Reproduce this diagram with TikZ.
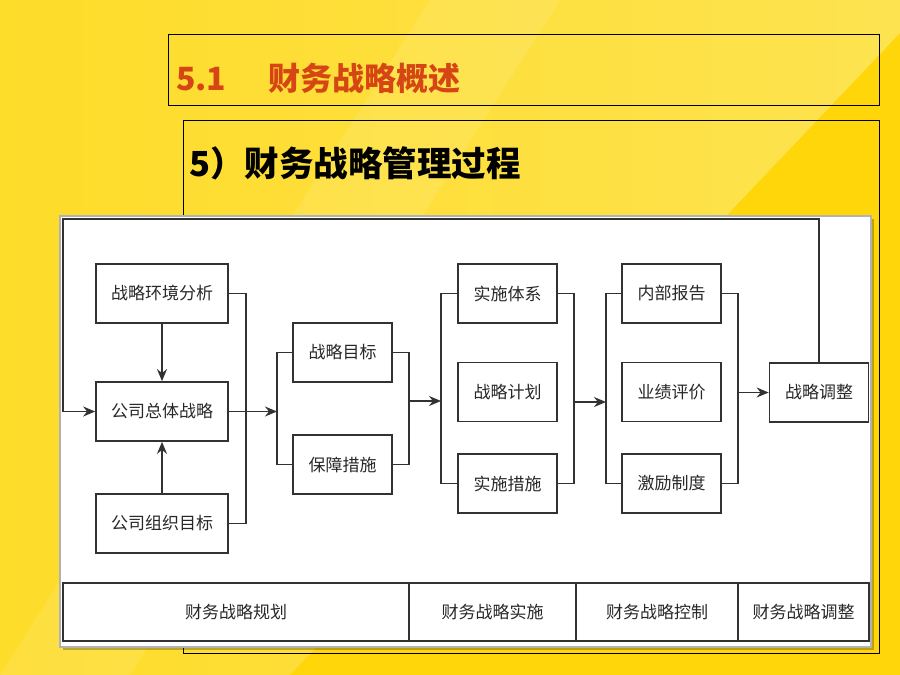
\documentclass[tikz,border=0pt]{standalone}
\usepackage{fontspec}
\newfontfamily\cjk{Noto Sans CJK SC}
\usetikzlibrary{arrows.meta}

\definecolor{goldy}{RGB}{255,214,10}
\definecolor{lighty}{RGB}{253,227,80}
\definecolor{titred}{RGB}{214,70,20}
\definecolor{lined}{RGB}{50,50,50}
\definecolor{textd}{RGB}{40,40,40}

\begin{document}
\begin{tikzpicture}[x=1pt,y=-1pt,
        box/.style={draw=lined, line width=1.7pt, fill=white, minimum height=59pt, inner sep=0pt, text=textd, font=\cjk\fontsize{17}{17}\selectfont},
        wide/.style={box, minimum width=132pt},
        mid/.style={box, minimum width=99pt},
        cell/.style={box, minimum height=58pt},
        link/.style={draw=lined, line width=1.6pt},
        go/.style={link, -{Stealth[length=12pt,width=10pt]}}]
            \useasboundingbox (0,0) rectangle (900,675);
            % background
            \fill[goldy] (0,0) rectangle (900,675);
            \shade[left color=goldy!55!lighty, right color=lighty] (0,0) -- (900,0) -- (900,33) -- (290,675) -- (0,675) -- cycle;
            \fill[white, opacity=0.1] (430,0) -- (560,0) -- (130,675) -- (0,675) -- cycle;
            % title boxes
            \draw[line width=1pt] (168,34) rectangle (879,105);
            \node[anchor=west, inner sep=0pt, text=titred, font=\cjk\bfseries\fontsize{32}{32}\selectfont] (head) at (176,78) {5.1\hspace{42pt}财务战略概述};
            \draw[line width=1pt] (183,120) rectangle (879,653);
            \node[anchor=west, inner sep=0pt, font=\cjk\bfseries\fontsize{34.5}{34.5}\selectfont] (sub) at (189,163) {5）财务战略管理过程};
            % white panel
            \fill[black, opacity=0.25] (63,219) rectangle (874,650);
            \draw[gray!60, line width=2pt, fill=white] (60,216) rectangle (871,647);
            % planning
            \node[wide] (env) at (162,293.5) {战略环境分析};
            \node[wide] (corp) at (162,411.5) {公司总体战略};
            \node[wide] (org) at (162,523.5) {公司组织目标};
            \node[mid] (goal) at (342.5,352.5) {战略目标};
            \node[mid] (guard) at (342.5,464.5) {保障措施};
            % implementation
            \node[mid] (sys) at (507.5,293.5) {实施体系};
            \node[mid] (plan) at (507.5,392) {战略计划};
            \node[mid] (act) at (507.5,483.5) {实施措施};
            % control
            \node[mid] (rep) at (671.5,293.5) {内部报告};
            \node[mid] (eval) at (671.5,392) {业绩评价};
            \node[mid] (inc) at (671.5,483.5) {激励制度};
            \node[mid] (adj) at (819,392.5) {战略调整};
            \coordinate (b2) at (277,411.5);
            \coordinate (o3) at (408,401);
            \coordinate (b3) at (441,401);
            \coordinate (o5) at (573,402);
            \coordinate (b5) at (606,402);
            \coordinate (o7) at (737,392.5);
            \coordinate (loop) at (63,219);
            \draw[go] (env) -- (corp);
            \draw[go] (org) -- (corp);
            \draw[link] (env.east) -- ++(17,0) |- (org.east);
            \draw[go] (corp.east) -- (b2);
            \draw[link] (goal.west) -| (b2) |- (guard.west);
            \draw[link] (goal.east) -- ++(16,0) |- (guard.east);
            \draw[go] (o3) -- (b3);
            \draw[link] (sys.west) -| (b3) |- (act.west);
            \draw[link] (sys.east) -- ++(16,0) |- (act.east);
            \draw[go] (o5) -- (b5);
            \draw[link] (rep.west) -| (b5) |- (inc.west);
            \draw[link] (rep.east) -- ++(16,0) |- (inc.east);
            \draw[go] (o7) -- (adj.west);
            \draw[go] (adj.north) |- (loop) |- (corp.west);
            % stages
            \node[cell, minimum width=346pt] (stage1) at (236,612) {财务战略规划};
            \node[cell, minimum width=167pt] (stage2) at (492.5,612) {财务战略实施};
            \node[cell, minimum width=162pt] (stage3) at (657,612) {财务战略控制};
            \node[cell, minimum width=131pt] (stage4) at (803.5,612) {财务战略调整};
        \end{tikzpicture}
\end{document}
